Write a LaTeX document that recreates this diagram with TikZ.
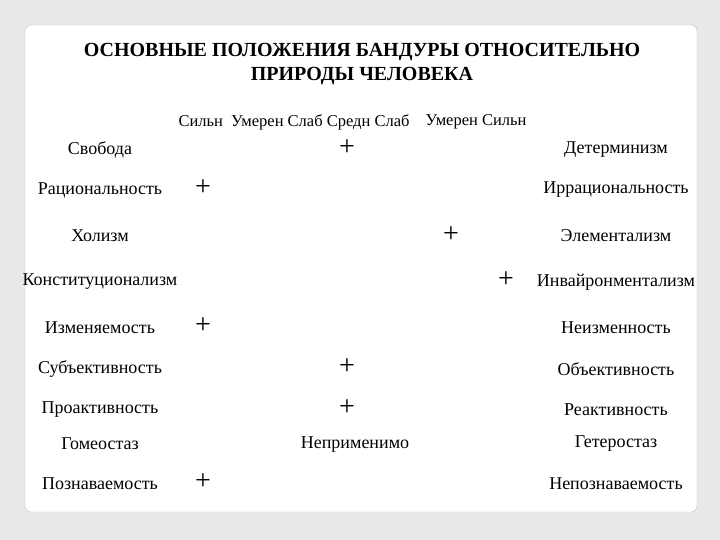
\documentclass[tikz,border=0pt]{standalone}
\usepackage{fontspec}
\setmainfont{Liberation Serif}
\begin{document}
\begin{tikzpicture}[x=1pt,y=-1pt,
  t/.style={font=\fontsize{18}{20}\selectfont, inner sep=0pt},
  p/.style={font=\fontsize{28}{28}\selectfont, inner sep=0pt}]
\fill[gray!18] (0,0) rectangle (720,540);
\useasboundingbox (0,0) rectangle (720,540);
\fill[white, draw=gray!50, rounded corners=6pt] (25,25) rectangle (697,512);
\node[t,font=\bfseries\fontsize{20}{24}\selectfont, align=center] (title) at (362,64) {ОСНОВНЫЕ ПОЛОЖЕНИЯ БАНДУРЫ ОТНОСИТЕЛЬНО\\ПРИРОДЫ ЧЕЛОВЕКА};
\node[t,font=\fontsize{16.5}{18}\selectfont] (h1) at (294,122) {Сильн\ \ Умерен Слаб Средн Слаб};
\node[t,font=\fontsize{16.5}{18}\selectfont] (h2) at (476,122) {Умерен Сильн};
\foreach \n/\y/\l/\r in {a/150/Свобода/Детерминизм, b/190/Рациональность/Иррациональность, c/236/Холизм/Элементализм, d/282/Конституционализм/Инвайронментализм, e/328/Изменяемость/Неизменность, f/369/Субъективность/Объективность, g/410/Проактивность/Реактивность, h/444/Гомеостаз/Гетеростаз, i/484/Познаваемость/Непознаваемость}{
  \node[t] (l\n) at (100,\y) {\l};
  \node[t] (r\n) at (616,\y) {\r};
}
\node[p] (pa) at (347,148) {+};
\node[p] (pb) at (203,188) {+};
\node[p] (pc) at (451,235) {+};
\node[p] (pd) at (506,280) {+};
\node[p] (pe) at (203,326) {+};
\node[p] (pf) at (347,367) {+};
\node[p] (pg) at (347,408) {+};
\node[t] (ph) at (355,445) {Неприменимо};
\node[p] (pi) at (203,482) {+};
\end{tikzpicture}
\end{document}
